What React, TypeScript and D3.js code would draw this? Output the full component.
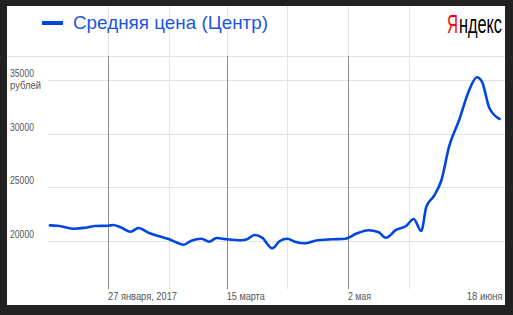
import React from "react";
import * as d3 from "d3";

const seriesName = "Средняя цена (Центр)";
const unitLabel = "рублей";
const brandFirst = "Я";
const brandRest = "ндекс";

const dates: string[] = [
  "2017-01-04", "2017-01-07", "2017-01-14", "2017-01-18", "2017-01-22", "2017-01-27",
  "2017-01-29", "2017-02-01", "2017-02-05", "2017-02-08", "2017-02-12", "2017-02-20",
  "2017-02-26", "2017-03-01", "2017-03-05", "2017-03-08", "2017-03-11", "2017-03-15",
  "2017-03-21", "2017-03-23", "2017-03-26", "2017-03-29", "2017-04-02", "2017-04-05",
  "2017-04-08", "2017-04-11", "2017-04-15", "2017-04-19", "2017-04-26", "2017-05-01",
  "2017-05-05", "2017-05-10", "2017-05-14", "2017-05-17", "2017-05-21", "2017-05-25",
  "2017-05-28", "2017-05-31", "2017-06-02", "2017-06-05", "2017-06-08", "2017-06-11",
  "2017-06-15", "2017-06-19", "2017-06-22", "2017-06-24", "2017-06-27", "2017-07-01",
];
const prices: number[] = [
  21460, 21425, 21146, 21239, 21398, 21425,
  21490, 21276, 20866, 21211, 20773, 20186,
  19655, 20028, 20214, 19935, 20280, 20158,
  20065, 20158, 20559, 20307, 19320, 20000,
  20214, 19935, 19786, 20028, 20158, 20214,
  20652, 21006, 20839, 20307, 21025, 21398,
  22050, 20932, 23196, 24193, 25683, 28786,
  31274, 34069, 35252, 34842, 32364, 31367,
];

const yTicks: number[] = [20000, 25000, 30000, 35000];
const majorDates: string[] = ["2017-01-27", "2017-03-15", "2017-05-02", "2017-06-18"];
const majorLabels: string[] = ["27 января, 2017", "15 марта", "2 мая", "18 июня"];
const majorLabelWidths: number[] = [69, 38, 23, 36];
const minorDates: string[] = ["2017-01-27", "2017-02-20", "2017-03-15", "2017-04-08", "2017-05-02", "2017-05-26"];
const darkLineDates: string[] = ["2017-01-27", "2017-03-15", "2017-05-02"];

const parse = (s: string) => new Date(s + "T00:00:00Z");

export default function App() {
  const W = 513, H = 315;
  const panel = { x: 7, y: 6, w: 498, h: 299 };
  const plotTop = 56, plotBottom = 289, plotLeft = 48, plotRight = 505;

  const x = d3.scaleUtc().domain([parse("2017-01-27"), parse("2017-05-02")]).range([108, 348]);
  const y = d3.scaleLinear().domain([20000, 35000]).range([241, 80]);

  const data = dates.map((d, i) => ({ date: parse(d), value: prices[i] }));
  const line = d3
    .line<{ date: Date; value: number }>()
    .x((d) => x(d.date))
    .y((d) => y(d.value))
    .curve(d3.curveMonotoneX);

  const font = "'Liberation Sans', Arial, sans-serif";
  const blue = "#0047de";

  return (
    <div style={{ position: "fixed", left: 0, top: 0, width: W, height: H, background: "#222" }}>
      <svg width={W} height={H} style={{ display: "block" }}>
        <rect x={0} y={0} width={W} height={H} fill="#222" />
        <rect x={panel.x} y={panel.y} width={panel.w} height={panel.h} fill="#fff" />

        {minorDates.map((d) => (
          <line key={"mv" + d} x1={Math.round(x(parse(d))) + 0.5} x2={Math.round(x(parse(d))) + 0.5}
            y1={panel.y} y2={plotBottom} stroke="#e3e3e3" strokeWidth={1} />
        ))}
        <line x1={panel.x} x2={plotRight} y1={plotTop + 0.5} y2={plotTop + 0.5} stroke="#e3e3e3" />
        {yTicks.map((t) => (
          <line key={"h" + t} x1={plotLeft} x2={plotRight} y1={Math.round(y(t)) + 0.5} y2={Math.round(y(t)) + 0.5}
            stroke="#e3e3e3" strokeWidth={1} />
        ))}
        {darkLineDates.map((d) => (
          <line key={"dv" + d} x1={Math.round(x(parse(d))) + 0.5} x2={Math.round(x(parse(d))) + 0.5}
            y1={plotTop} y2={plotBottom} stroke="#8a8a8a" strokeWidth={1} />
        ))}

        {yTicks.map((t) => (
          <text key={"yl" + t} x={10} y={y(t) - 3} fontFamily={font} fontSize={11} fill="#555"
            textLength={24} lengthAdjust="spacingAndGlyphs">{t}</text>
        ))}
        <text x={10} y={y(35000) + 9} fontFamily={font} fontSize={11} fill="#555"
          textLength={31} lengthAdjust="spacingAndGlyphs">{unitLabel}</text>

        {majorDates.map((d, i) => (
          <text key={"xl" + d} x={x(parse(d))} y={300} fontFamily={font} fontSize={11} fill="#555"
            textLength={majorLabelWidths[i]} lengthAdjust="spacingAndGlyphs">{majorLabels[i]}</text>
        ))}

        <path d={line(data) || ""} fill="none" stroke={blue} strokeWidth={2.6}
          strokeLinejoin="round" strokeLinecap="round" />

        <line x1={42} x2={63} y1={23} y2={23} stroke={blue} strokeWidth={4} />
        <text x={73} y={28.5} fontFamily={font} fontSize={18.5} fill="#1a56e0"
          textLength={195} lengthAdjust="spacingAndGlyphs">{seriesName}</text>

        <g transform="translate(447,32.5) scale(1,1.6)">
          <text x={0} y={0} fontFamily={font} fontSize={16} fill="#f00"
            textLength={11} lengthAdjust="spacingAndGlyphs">{brandFirst}</text>
          <text x={12} y={0} fontFamily={font} fontSize={16} fill="#000"
            textLength={43} lengthAdjust="spacingAndGlyphs">{brandRest}</text>
        </g>
      </svg>
    </div>
  );
}
